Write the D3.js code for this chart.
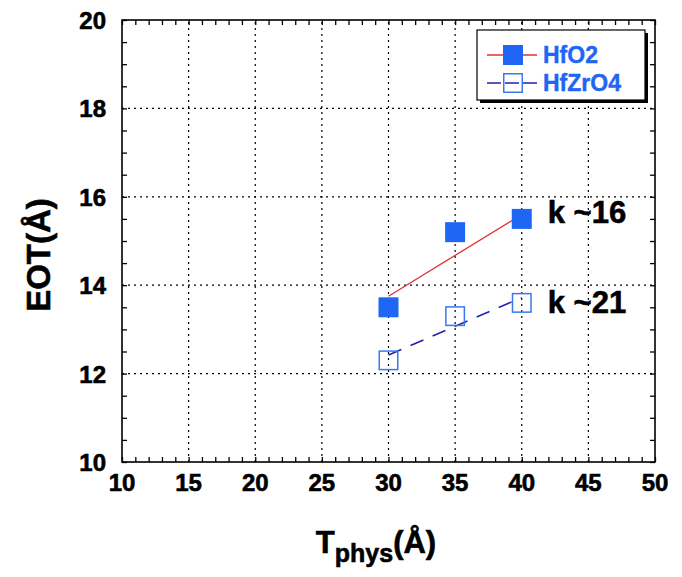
<!DOCTYPE html>
<html>
<head>
<meta charset="utf-8">
<script src="https://d3js.org/d3.v7.min.js"></script>
<style>
  body { margin: 0; background: #fff; }
  svg { font-family: "Liberation Sans", Arial, sans-serif; font-weight: bold; }
  .heavy { stroke: #000; stroke-width: 0.6; }
</style>
</head>
<body>
<div id="chart"></div>
<script>
// data
var xTicks = [10, 15, 20, 25, 30, 35, 40, 45, 50];
var yTicks = [10, 12, 14, 16, 18, 20];
var thickness = [30, 35, 40];
var eotHfO2 = [13.5, 15.2, 15.5];
var eotHfZrO4 = [12.3, 13.3, 13.6];
var fitX = [30, 40];
var fitHfO2 = [13.75, 15.6];
var fitHfZrO4 = [12.42, 13.72];
var kLabels = [{text: "k ~16", y: 15.66}, {text: "k ~21", y: 13.62}];

var width = 682, height = 577;
var margin = {left: 122, right: 27, top: 20, bottom: 115};

var svg = d3.select("#chart").append("svg")
    .attr("width", width).attr("height", height);

var x = d3.scaleLinear().domain([10, 50]).range([margin.left, width - margin.right]);
var y = d3.scaleLinear().domain([10, 20]).range([height - margin.bottom, margin.top]);

var blue = "#1f66f5";

// grid
var grid = svg.append("g");
grid.selectAll(".gx").data(xTicks.slice(1, -1)).enter().append("line")
    .attr("x1", d => x(d)).attr("x2", d => x(d))
    .attr("y1", y(10)).attr("y2", y(20))
    .attr("stroke", "#000").attr("stroke-width", 1.2).attr("stroke-dasharray", "2,4");
grid.selectAll(".gy").data(yTicks.slice(1, -1)).enter().append("line")
    .attr("y1", d => y(d)).attr("y2", d => y(d))
    .attr("x1", x(10)).attr("x2", x(50))
    .attr("stroke", "#000").attr("stroke-width", 1.2).attr("stroke-dasharray", "2,4");

// inward minor ticks on all four sides
var minorX = d3.range(10, 51, 1);
var minorY = d3.range(10, 20.01, 0.5);

svg.append("g").attr("transform", "translate(0," + y(10) + ")")
    .call(d3.axisTop(x).tickValues(minorX).tickSize(5).tickFormat(""));
svg.append("g").attr("transform", "translate(0," + y(20) + ")")
    .call(d3.axisBottom(x).tickValues(minorX).tickSize(5).tickFormat(""));
svg.append("g").attr("transform", "translate(" + x(10) + ",0)")
    .call(d3.axisRight(y).tickValues(minorY).tickSize(5).tickFormat(""));
svg.append("g").attr("transform", "translate(" + x(50) + ",0)")
    .call(d3.axisLeft(y).tickValues(minorY).tickSize(5).tickFormat(""));
svg.selectAll(".domain").remove();
svg.selectAll(".tick line").attr("stroke", "#000").attr("stroke-width", 1.3);

svg.append("rect")
    .attr("x", x(10)).attr("y", y(20))
    .attr("width", x(50) - x(10)).attr("height", y(10) - y(20))
    .attr("fill", "none").attr("stroke", "#000").attr("stroke-width", 1.6);

// tick labels
svg.selectAll(".xl").data(xTicks).enter().append("text")
    .attr("class", "heavy")
    .attr("x", d => x(d)).attr("y", y(10) + 29)
    .attr("text-anchor", "middle").attr("font-size", 24)
    .text(d => d);
svg.selectAll(".yl").data(yTicks).enter().append("text")
    .attr("class", "heavy")
    .attr("x", x(10) - 16).attr("y", d => y(d) + 9)
    .attr("text-anchor", "end").attr("font-size", 24)
    .text(d => d);

// axis titles
var xt = svg.append("text").attr("class", "heavy").attr("x", 376).attr("y", 553)
    .attr("text-anchor", "middle").attr("font-size", 31);
xt.append("tspan").text("T");
xt.append("tspan").attr("font-size", 25).attr("dy", 9).text("phys");
xt.append("tspan").attr("dy", -9).text("(Å)");

svg.append("text").attr("class", "heavy")
    .attr("transform", "translate(50,255) rotate(-90)")
    .attr("text-anchor", "middle").attr("font-size", 33)
    .text("EOT(Å)");

// fit lines
var line = d3.line().x(d => x(d[0])).y(d => y(d[1]));
svg.append("path").datum(d3.zip(fitX, fitHfO2)).attr("d", line)
    .attr("fill", "none").attr("stroke", "#e03030").attr("stroke-width", 1.3);
svg.append("path").datum(d3.zip(fitX, fitHfZrO4)).attr("d", line)
    .attr("fill", "none").attr("stroke", "#2020b0").attr("stroke-width", 1.5)
    .attr("stroke-dasharray", "14,10");

// markers
var ms = 20;
svg.selectAll(".m1").data(d3.zip(thickness, eotHfO2)).enter().append("rect")
    .attr("x", d => x(d[0]) - ms / 2).attr("y", d => y(d[1]) - ms / 2)
    .attr("width", ms).attr("height", ms).attr("fill", blue);
svg.selectAll(".m2").data(d3.zip(thickness, eotHfZrO4)).enter().append("rect")
    .attr("x", d => x(d[0]) - ms / 2 + 0.75).attr("y", d => y(d[1]) - ms / 2 + 0.75)
    .attr("width", ms - 1.5).attr("height", ms - 1.5)
    .attr("fill", "none").attr("stroke", "#3a78f0").attr("stroke-width", 1.5);

// k labels
svg.selectAll(".kl").data(kLabels).enter().append("text")
    .attr("class", "heavy")
    .attr("x", x(40) + 26).attr("y", d => y(d.y) + 11)
    .attr("font-size", 31).text(d => d.text);

// legend
var lg = svg.append("g").attr("transform", "translate(477,30)");
lg.append("rect").attr("x", 3).attr("y", 3).attr("width", 168).attr("height", 70).attr("fill", "#000");
lg.append("rect").attr("width", 168).attr("height", 70)
    .attr("fill", "#fff").attr("stroke", "#000").attr("stroke-width", 1.2);
var legendItems = [
    {name: "HfO2", stroke: "#e03030", dash: null, filled: true},
    {name: "HfZrO4", stroke: "#2020b0", dash: "14,4", filled: false}
];
legendItems.forEach(function(it, i) {
    var cy = 25 + i * 28;
    lg.append("line").attr("x1", 10).attr("x2", 60).attr("y1", cy).attr("y2", cy)
        .attr("stroke", it.stroke).attr("stroke-width", 1.5)
        .attr("stroke-dasharray", it.dash);
    if (it.filled) {
        lg.append("rect").attr("x", 26).attr("y", cy - 10).attr("width", 20).attr("height", 20).attr("fill", blue);
    } else {
        lg.append("rect").attr("x", 26.75).attr("y", cy - 9.25).attr("width", 18.5).attr("height", 18.5)
            .attr("fill", "none").attr("stroke", "#3a78f0").attr("stroke-width", 1.5);
    }
    lg.append("text").attr("x", 66).attr("y", cy + 8).attr("font-size", 23)
        .attr("fill", blue).attr("stroke", blue).attr("stroke-width", 0.4).text(it.name);
});
</script>
</body>
</html>
